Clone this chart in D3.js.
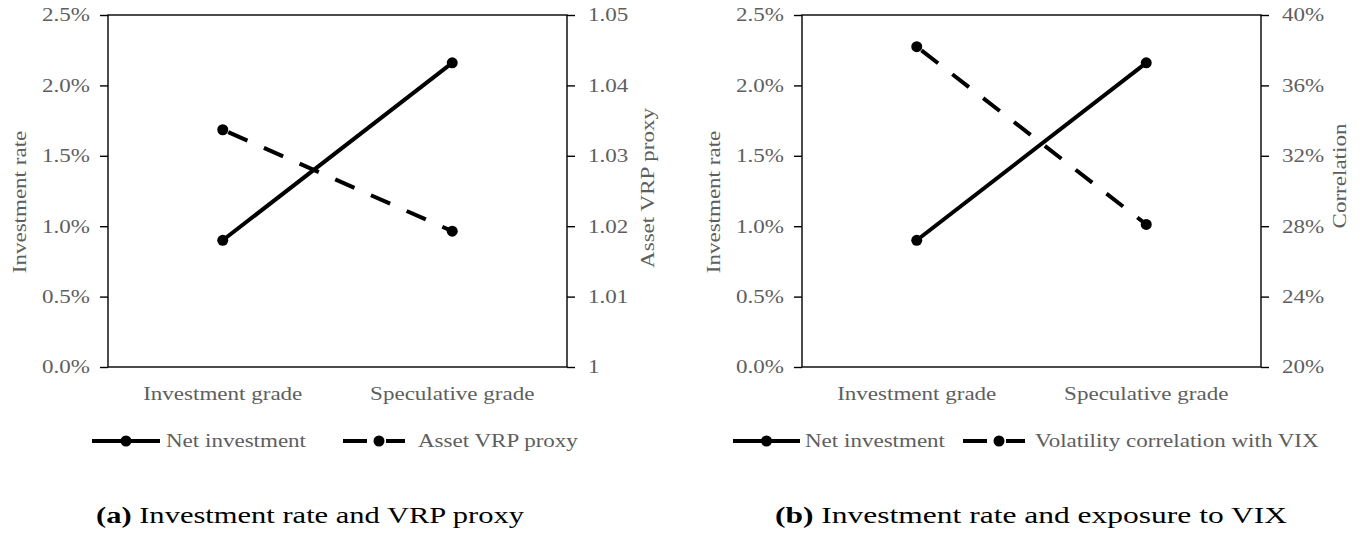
<!DOCTYPE html>
<html>
<head>
<meta charset="utf-8">
<script src="https://cdn.jsdelivr.net/npm/d3@7"></script>
<style>
  html, body { margin: 0; padding: 0; background: #fff; }
  svg { display: block; }
</style>
</head>
<body>
<svg id="chart" width="1362" height="534"></svg>
<script>
// Credit-rating groups and the two series plotted in each panel
const categories = ["Investment grade", "Speculative grade"];
const netInvestment = [0.0090, 0.0216];
const assetVrpProxy = [1.0337, 1.0193];
const vixCorrelation = [0.382, 0.281];

// Axis ticks
const rateTicks = [0, 0.005, 0.010, 0.015, 0.020, 0.025];
const vrpTicks = [1.00, 1.01, 1.02, 1.03, 1.04, 1.05];
const corrTicks = [0.20, 0.24, 0.28, 0.32, 0.36, 0.40];

// Legend and caption text
const legendA = ["Net investment", "Asset VRP proxy"];
const legendB = ["Net investment", "Volatility correlation with VIX"];
const captionA = ["(a)", " Investment rate and VRP proxy"];
const captionB = ["(b)", " Investment rate and exposure to VIX"];

const svg = d3.select("#chart");
const FONT = "'Liberation Serif', 'Times New Roman', serif";
const GREY = "#5e5e5e";
const SX = 1.28;            // horizontal stretch of the chart lettering
const TOP = 15, BOTTOM = 367;

function panel(opts) {
  const g = svg.append("g");
  const x = d3.scaleBand().domain(categories).range([opts.x0, opts.x1]);
  const yL = d3.scaleLinear().domain([0, 0.025]).range([BOTTOM, TOP]);
  const yR = d3.scaleLinear().domain(opts.rDomain).range([BOTTOM, TOP]);

  // left axis
  const gl = g.append("g").attr("transform", `translate(${opts.x0},0)`)
    .call(d3.axisLeft(yL).tickValues(rateTicks).tickFormat(d3.format(".1%"))
      .tickSize(8).tickSizeOuter(0));
  gl.select(".domain").remove();
  gl.selectAll("line").attr("stroke", "#000").attr("stroke-width", 1.4);
  gl.selectAll("text").attr("font-family", FONT).attr("font-size", 18)
    .attr("fill", GREY).attr("x", -18 / SX).attr("dy", "0.33em")
    .attr("transform", `scale(${SX},1)`);

  // right axis
  const gr = g.append("g").attr("transform", `translate(${opts.x1},0)`)
    .call(d3.axisRight(yR).tickValues(opts.rTicks).tickFormat(opts.rFormat)
      .tickSize(8).tickSizeOuter(0));
  gr.select(".domain").remove();
  gr.selectAll("line").attr("stroke", "#000").attr("stroke-width", 1.4);
  gr.selectAll("text").attr("font-family", FONT).attr("font-size", 18)
    .attr("fill", GREY).attr("x", 21 / SX).attr("dy", "0.33em")
    .attr("transform", `scale(${SX},1)`);

  // category axis (labels only)
  const gb = g.append("g").attr("transform", `translate(0,${BOTTOM})`)
    .call(d3.axisBottom(x).tickSize(0).tickPadding(0));
  gb.select(".domain").remove();
  gb.selectAll("text").attr("font-family", FONT).attr("font-size", 18)
    .attr("fill", GREY).attr("y", 33).attr("dy", 0)
    .attr("transform", `scale(${SX},1)`);

  // plot frame
  g.append("rect").attr("x", opts.x0).attr("y", TOP)
    .attr("width", opts.x1 - opts.x0).attr("height", BOTTOM - TOP)
    .attr("fill", "none").attr("stroke", "#000").attr("stroke-width", 1.4);

  // axis titles
  const title = (cx, cy, txt) => g.append("text")
    .attr("transform", `translate(${cx},${cy}) rotate(-90) scale(${SX},1)`)
    .attr("text-anchor", "middle").attr("dy", "0.33em")
    .attr("font-family", FONT).attr("font-size", 18).attr("fill", GREY).text(txt);
  title(opts.x0 - 88, 202, "Investment rate");
  title(opts.x1 + opts.rTitleDx, opts.rTitleY, opts.rTitle);

  const cx = d => x(d) + x.bandwidth() / 2;

  // series
  const lineL = d3.line().x((v, i) => cx(categories[i])).y(v => yL(v));
  const lineR = d3.line().x((v, i) => cx(categories[i])).y(v => yR(v));

  g.append("path").datum(opts.rValues).attr("d", lineR)
    .attr("fill", "none").attr("stroke", "#000").attr("stroke-width", 4)
    .attr("stroke-dasharray", "21,18").attr("stroke-dashoffset", -6);
  g.append("path").datum(netInvestment).attr("d", lineL)
    .attr("fill", "none").attr("stroke", "#000").attr("stroke-width", 4);

  g.selectAll(".mL").data(netInvestment).join("circle")
    .attr("cx", (v, i) => cx(categories[i])).attr("cy", v => yL(v)).attr("r", 5.5);
  g.selectAll(".mR").data(opts.rValues).join("circle")
    .attr("cx", (v, i) => cx(categories[i])).attr("cy", v => yR(v)).attr("r", 5.5);

  // legend
  const ly = 441;
  const item = (x0, x1, dashed, tx, label) => {
    g.append("line").attr("x1", x0).attr("x2", x1).attr("y1", ly).attr("y2", ly)
      .attr("stroke", "#000").attr("stroke-width", 4)
      .attr("stroke-dasharray", dashed ? "24,19" : null);
    g.append("circle").attr("cx", dashed ? (x0 + x1) / 2 + 5 : (x0 + x1) / 2)
      .attr("cy", ly).attr("r", 5.5);
    g.append("text").attr("transform", `translate(${tx},${ly}) scale(${SX},1)`)
      .attr("dy", "0.33em").attr("font-family", FONT).attr("font-size", 18)
      .attr("fill", GREY).text(label);
  };
  item(opts.leg[0], opts.leg[1], false, opts.leg[2], opts.legend[0]);
  item(opts.leg[3], opts.leg[4], true, opts.leg[5], opts.legend[1]);

  // caption
  const cap = g.append("text").attr("x", opts.capX).attr("y", 523)
    .attr("font-family", FONT).attr("font-size", 24).attr("fill", "#000")
    .attr("textLength", opts.capW).attr("lengthAdjust", "spacingAndGlyphs");
  cap.append("tspan").attr("font-weight", "bold").text(opts.caption[0]);
  cap.append("tspan").text(opts.caption[1]);
}

panel({
  x0: 108, x1: 567,
  rDomain: [1.00, 1.05], rTicks: vrpTicks, rFormat: d => String(+d.toFixed(2)),
  rValues: assetVrpProxy, rTitle: "Asset VRP proxy", rTitleDx: 81, rTitleY: 188,
  legend: legendA, leg: [92, 160, 166, 343, 405, 418],
  caption: captionA, capX: 96, capW: 428
});

panel({
  x0: 802, x1: 1261,
  rDomain: [0.20, 0.40], rTicks: corrTicks, rFormat: d3.format(".0%"),
  rValues: vixCorrelation, rTitle: "Correlation", rTitleDx: 79, rTitleY: 176,
  legend: legendB, leg: [733, 800, 805, 963, 1025, 1035],
  caption: captionB, capX: 775, capW: 512
});
</script>
</body>
</html>
